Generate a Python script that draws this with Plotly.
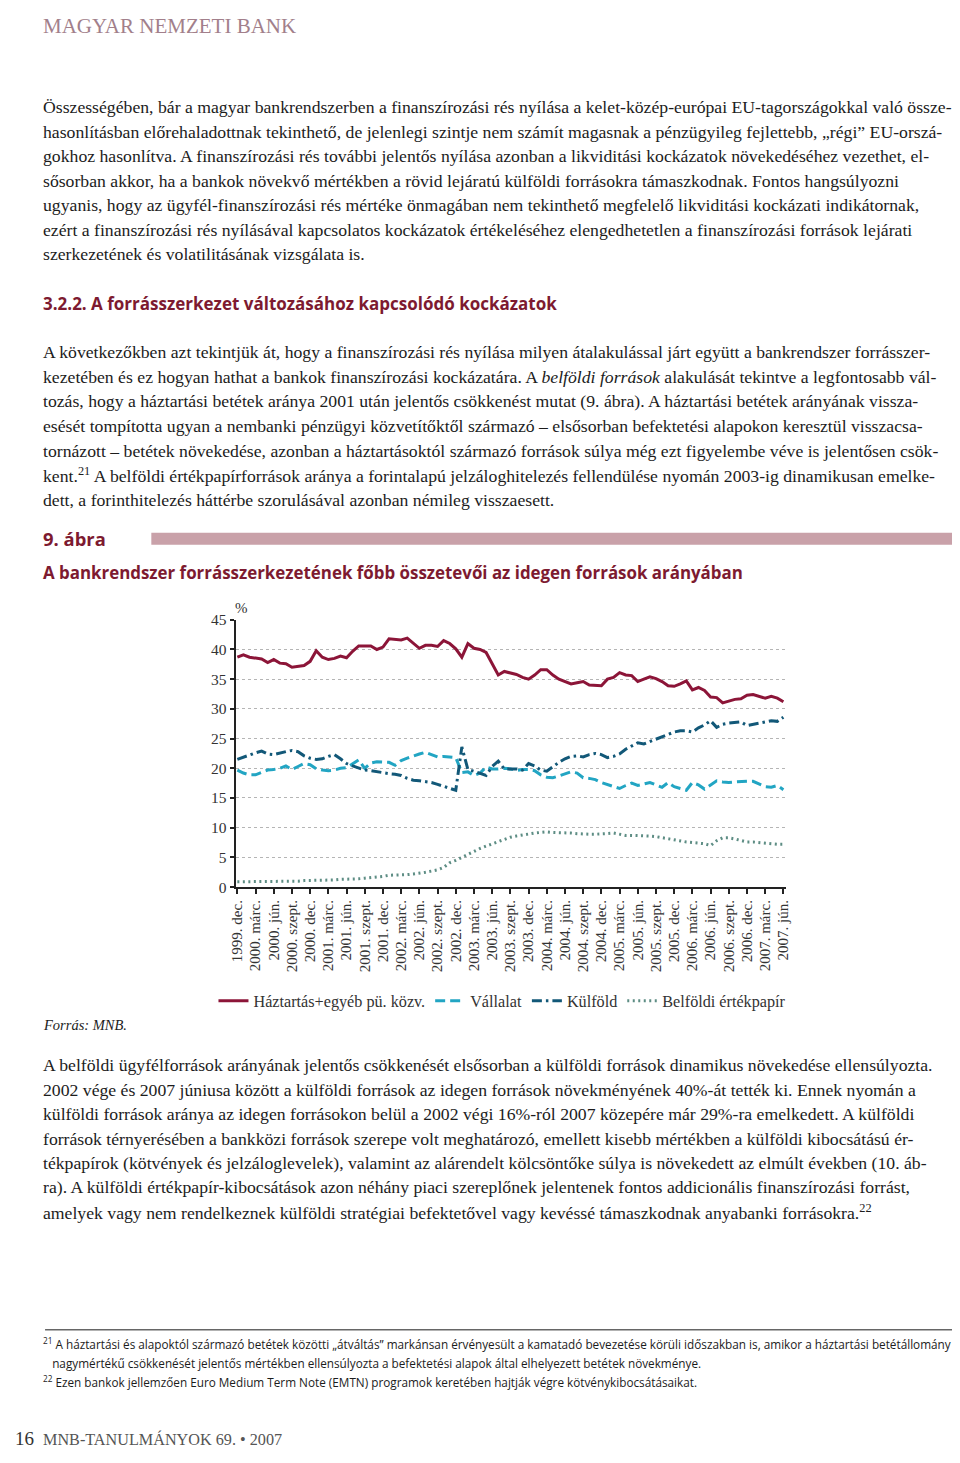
import plotly.graph_objects as go

# figure size; the photographed page shows it slightly shifted and shrunk,
# so page positions are converted with the measured offset/scale below
W, H = 944, 1447
OX, SX = 15, 0.986
OY, SY = 17, 0.987
SERIF = "Liberation Serif"
SANS = "Open Sans"
MAROON = "#7d1a30"

# ---- chart data (share of external liabilities, %), monthly 1999 dec - 2007 jún ----
haztartas = [38.7, 39.1, 38.7, 38.5, 38.4, 37.8, 38.3, 37.7, 37.6, 37.0,
             37.2, 37.3, 38.0, 39.8, 38.7, 38.3, 38.5, 38.9, 38.6, 39.7,
             40.6, 40.6, 40.6, 40.0, 40.4, 41.8, 41.7, 41.6, 41.9, 41.1,
             40.2, 40.7, 40.7, 40.5, 41.5, 41.0, 40.1, 38.7, 41.0, 40.2,
             40.0, 39.5, 37.6, 35.7, 36.3, 36.1, 35.8, 35.3, 35.0, 35.7,
             36.6, 36.6, 35.7, 35.0, 34.6, 34.2, 34.4, 34.6, 34.0, 33.9,
             33.9, 35.0, 35.3, 36.1, 35.7, 35.6, 34.6, 35.0, 35.4, 35.1,
             34.6, 33.9, 33.8, 34.2, 34.7, 33.2, 33.6, 33.1, 32.0, 31.9,
             31.0, 31.3, 31.6, 31.7, 32.3, 32.4, 32.1, 31.8, 32.1, 31.8,
             31.2]
vallalat = [19.7, 19.2, 18.9, 18.9, 19.3, 19.7, 19.8, 20.0, 20.4, 19.8,
            20.3, 20.8, 20.6, 19.9, 19.7, 19.6, 19.7, 20.0, 20.1, 20.8,
            21.4, 20.0, 20.9, 21.1, 21.1, 21.0, 20.5, 21.3, 21.7, 22.1,
            22.4, 22.7, 22.3, 21.9, 22.0, 21.9, 21.8, 19.3, 19.4, 18.8,
            19.2, 20.2, 19.9, 19.9, 20.0, 19.9, 19.6, 19.8, 19.8, 19.6,
            18.9, 18.5, 18.4, 18.7, 19.1, 19.4, 19.2, 18.4, 18.3, 18.1,
            17.6, 17.3, 17.0, 16.6, 17.1, 17.5, 17.1, 17.3, 17.6, 17.2,
            16.8, 17.6, 16.9, 16.6, 16.3, 17.6, 17.2, 16.5, 17.2, 17.9,
            17.7, 17.6, 17.7, 17.8, 17.8, 17.8, 17.3, 16.9, 16.8, 17.1,
            16.4]
kulfold = [21.5, 21.9, 22.3, 22.6, 22.9, 22.4, 22.3, 22.6, 22.8, 23.0,
           22.8, 22.1, 21.7, 21.5, 21.6, 22.0, 22.3, 21.6, 20.8, 20.4,
           20.0, 19.7, 19.6, 19.4, 19.3, 19.1, 19.0, 18.8, 18.3, 18.0,
           17.9, 17.8, 17.6, 17.3, 17.0, 16.6, 16.3, 23.6, 19.8, 19.5,
           19.2, 18.8, 20.3, 21.2, 19.9, 19.9, 19.9, 19.7, 20.8, 20.4,
           19.7, 19.5, 20.3, 21.0, 21.6, 22.0, 22.1, 21.9, 22.3, 22.5,
           22.3, 21.8, 22.0, 22.4, 23.2, 23.8, 24.3, 24.1, 24.5, 24.9,
           25.4, 25.7, 26.1, 26.3, 26.3, 26.1, 26.8, 27.3, 28.0, 26.9,
           27.4, 27.6, 27.7, 27.8, 27.2, 27.4, 27.7, 27.9, 28.0, 27.9,
           28.6]
belfoldi_ep = [0.9, 0.9, 0.9, 0.9, 0.9, 0.9, 0.9, 0.9, 0.9, 1.0,
               1.0, 1.1, 1.1, 1.1, 1.2, 1.2, 1.2, 1.3, 1.3, 1.4,
               1.4, 1.5, 1.6, 1.6, 1.8, 2.0, 2.0, 2.1, 2.1, 2.2,
               2.3, 2.5, 2.7, 2.9, 3.3, 4.1, 4.5, 5.0, 5.5, 6.1,
               6.5, 6.9, 7.3, 7.7, 8.1, 8.4, 8.6, 8.8, 8.9, 9.1,
               9.2, 9.3, 9.2, 9.2, 9.1, 9.1, 9.0, 8.9, 8.9, 8.9,
               8.9, 9.0, 9.1, 8.9, 8.7, 8.7, 8.7, 8.7, 8.6, 8.5,
               8.3, 8.1, 8.0, 7.8, 7.6, 7.5, 7.4, 7.3, 7.0, 7.8,
               8.3, 8.3, 8.1, 7.8, 7.6, 7.6, 7.5, 7.3, 7.3, 7.2,
               7.2]
series_names = ["Háztartás+egyéb pü. közv.", "Vállalat", "Külföld", "Belföldi értékpapír"]

tick_labels = ["1999. dec."]
for year in range(2000, 2008):
    for m in ["márc.", "jún.", "szept.", "dec."]:
        tick_labels.append(f"{year}. {m}")
tick_labels = tick_labels[:31]
months = list(range(len(haztartas)))

# ---- page text ----
header = "MAGYAR NEMZETI BANK"
para1 = [
    "Összességében, bár a magyar bankrendszerben a finanszírozási rés nyílása a kelet-közép-európai EU-tagországokkal való össze-",
    "hasonlításban előrehaladottnak tekinthető, de jelenlegi szintje nem számít magasnak a pénzügyileg fejlettebb, „régi” EU-orszá-",
    "gokhoz hasonlítva. A finanszírozási rés további jelentős nyílása azonban a likviditási kockázatok növekedéséhez vezethet, el-",
    "sősorban akkor, ha a bankok növekvő mértékben a rövid lejáratú külföldi forrásokra támaszkodnak. Fontos hangsúlyozni",
    "ugyanis, hogy az ügyfél-finanszírozási rés mértéke önmagában nem tekinthető megfelelő likviditási kockázati indikátornak,",
    "ezért a finanszírozási rés nyílásával kapcsolatos kockázatok értékeléséhez elengedhetetlen a finanszírozási források lejárati",
    "szerkezetének és volatilitásának vizsgálata is.",
]
section = "3.2.2. A forrásszerkezet változásához kapcsolódó kockázatok"
para2 = [
    "A következőkben azt tekintjük át, hogy a finanszírozási rés nyílása milyen átalakulással járt együtt a bankrendszer forrásszer-",
    "kezetében és ez hogyan hathat a bankok finanszírozási kockázatára. A <i>belföldi források</i> alakulását tekintve a legfontosabb vál-",
    "tozás, hogy a háztartási betétek aránya 2001 után jelentős csökkenést mutat (9. ábra). A háztartási betétek arányának vissza-",
    "esését tompította ugyan a nembanki pénzügyi közvetítőktől származó – elsősorban befektetési alapokon keresztül visszacsa-",
    "tornázott – betétek növekedése, azonban a háztartásoktól származó források súlya még ezt figyelembe véve is jelentősen csök-",
    "kent.<sup>21</sup> A belföldi értékpapírforrások aránya a forintalapú jelzáloghitelezés fellendülése nyomán 2003-ig dinamikusan emelke-",
    "dett, a forinthitelezés háttérbe szorulásával azonban némileg visszaesett.",
]
fig_no = "9. ábra"
fig_title = "A bankrendszer forrásszerkezetének főbb összetevői az idegen források arányában"
source = "<i>Forrás: MNB.</i>"
para3 = [
    "A belföldi ügyfélforrások arányának jelentős csökkenését elsősorban a külföldi források dinamikus növekedése ellensúlyozta.",
    "2002 vége és 2007 júniusa között a külföldi források az idegen források növekményének 40%-át tették ki. Ennek nyomán a",
    "külföldi források aránya az idegen forrásokon belül a 2002 végi 16%-ról 2007 közepére már 29%-ra emelkedett. A külföldi",
    "források térnyerésében a bankközi források szerepe volt meghatározó, emellett kisebb mértékben a külföldi kibocsátású ér-",
    "tékpapírok (kötvények és jelzáloglevelek), valamint az alárendelt kölcsöntőke súlya is növekedett az elmúlt években (10. áb-",
    "ra). A külföldi értékpapír-kibocsátások azon néhány piaci szereplőnek jelentenek fontos addicionális finanszírozási forrást,",
    "amelyek vagy nem rendelkeznek külföldi stratégiai befektetővel vagy kevéssé támaszkodnak anyabanki forrásokra.<sup>22</sup>",
]
footnotes = [
    "<sup>21</sup> A háztartási és alapoktól származó betétek közötti „átváltás” markánsan érvényesült a kamatadó bevezetése körüli időszakban is, amikor a háztartási betétállomány",
    "   nagymértékű csökkenését jelentős mértékben ellensúlyozta a befektetési alapok által elhelyezett betétek növekménye.",
    "<sup>22</sup> Ezen bankok jellemzően Euro Medium Term Note (EMTN) programok keretében hajtják végre kötvénykibocsátásaikat.",
]
page_no = "16"
footer = "MNB-TANULMÁNYOK 69. • 2007"

fig = go.Figure()

styles = [
    dict(color="#8c1538", width=3),
    dict(color="#22a5c3", width=3, dash="10px,5px"),
    dict(color="#125878", width=3, dash="10px,4px,2.5px,4px"),
    dict(color="#5d8d84", width=3, dash="2px,3.5px"),
]
for name, ys, st in zip(series_names, [haztartas, vallalat, kulfold, belfoldi_ep], styles):
    fig.add_trace(go.Scatter(x=months, y=ys, name=name, mode="lines", line=st))


def fx(x):
    # page pixel -> paper fraction
    return (x - OX) / SX / W


def fy(y):
    return 1 - (y - OY) / SY / H


def put(text, x, y, size=17.7, color="#1c1c1c", family=SERIF, yanchor="middle", yp=None):
    fig.add_annotation(text=text, x=fx(x), y=fy(y) if yp is None else yp,
                       xref="paper", yref="paper", showarrow=False,
                       xanchor="left", yanchor=yanchor, borderpad=0,
                       font=dict(family=family, size=size, color=color))


# header and footer sit at the very edges of the page: pin them to the figure edges
put(header, 43, 0, size=21, color="#a27f8b", yanchor="top", yp=1 + 4 / H)
for i, line in enumerate(para1):
    put(line, 43, 107 + i * 24.5)
put(f"<b>{section}</b>", 43, 303, size=17, color=MAROON, family=SANS)
for i, line in enumerate(para2):
    put(line, 43, 352 + i * 24.5)
put(f"<b>{fig_no}</b>", 43, 538, size=18.4, color=MAROON, family=SANS)
put(f"<b>{fig_title}</b>", 43, 572, size=16.9, color=MAROON, family=SANS)
put("%", 234, 607, size=15, color="#333333")
put(source, 43, 1024, size=14.5)
for i, line in enumerate(para3):
    put(line, 43, 1064 + i * 24.4)
for i, line in enumerate(footnotes):
    put(line, 43, 1342 + i * 19, size=11.75, family=SANS)
put(page_no, OX, 0, size=19, color="#333333", yanchor="bottom", yp=-3 / H)
put(footer, 43, 0, size=16.2, color="#555555", yanchor="bottom", yp=-3 / H)

# figure band and footnote rule
fig.add_shape(type="rect", xref="paper", yref="paper", x0=fx(152), x1=fx(954),
              y0=fy(544), y1=fy(532), fillcolor="#c9a1a9", line_width=0)
fig.add_shape(type="line", xref="paper", yref="paper", x0=fx(46), x1=fx(954),
              y0=fy(1328), y1=fy(1328), line=dict(color="#666666", width=1.5))

fig.update_layout(
    width=W, height=H,
    margin=dict(l=0, r=0, t=0, b=0),
    paper_bgcolor="white", plot_bgcolor="white",
    font=dict(family=SERIF, color="#333333"),
    showlegend=True,
    legend=dict(orientation="h", x=fx(214), y=fy(1000), xanchor="left", yanchor="middle",
                font=dict(family=SERIF, size=16.2, color="#333333"),
                bgcolor="rgba(0,0,0,0)"),
    xaxis=dict(domain=[fx(236), fx(785)], range=[-0.3, 90.4],
               tickvals=list(range(0, 91, 3)), ticktext=tick_labels, tickangle=-90,
               ticks="outside", ticklen=5, tickwidth=1.5, tickcolor="#222222",
               showline=True, linecolor="#222222", linewidth=2, showgrid=False,
               zeroline=False, tickfont=dict(family=SERIF, size=15, color="#333333")),
    yaxis=dict(domain=[fy(886), fy(619)], range=[0, 45], dtick=5,
               ticks="outside", ticklen=4, tickwidth=1.5, tickcolor="#222222",
               showline=True, linecolor="#222222", linewidth=2,
               showgrid=True, gridcolor="#b5b5b5", griddash="dot", gridwidth=1,
               zeroline=False, tickfont=dict(family=SERIF, size=15.5, color="#333333")),
)

fig.write_html("out.html")
